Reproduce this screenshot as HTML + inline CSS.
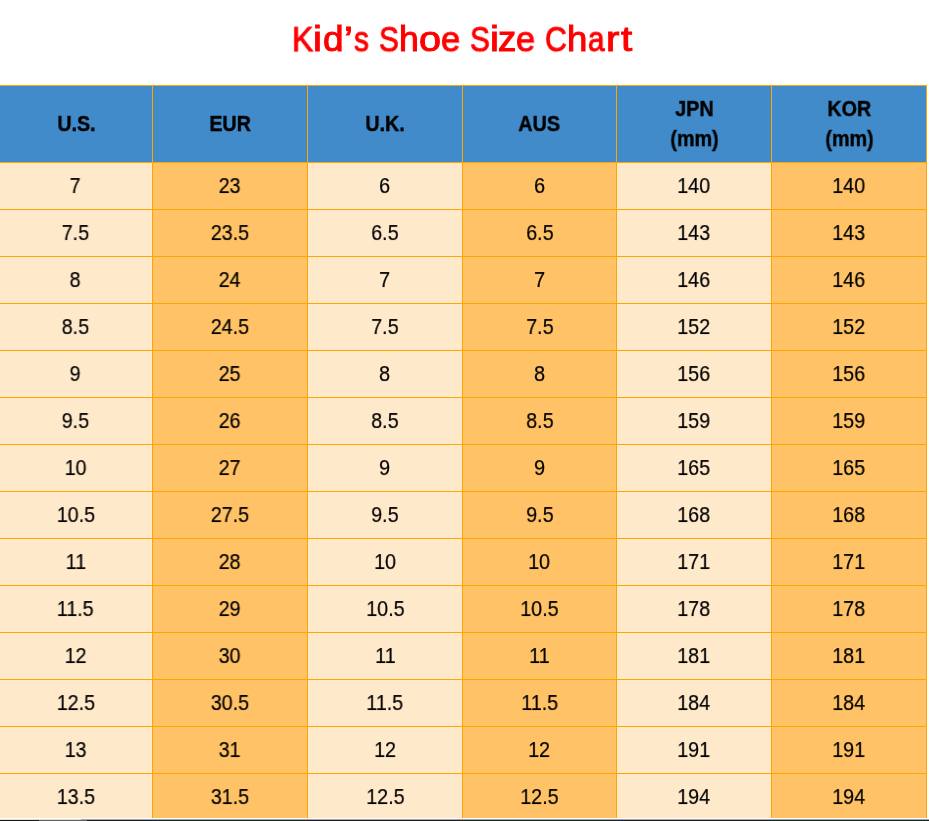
<!DOCTYPE html>
<html><head><meta charset="utf-8"><title>Kid's Shoe Size Chart</title>
<style>
html,body{margin:0;padding:0;background:#fff;}
body{width:929px;height:821px;position:relative;overflow:hidden;font-family:"Liberation Sans",sans-serif;color:#000;}
.title span{will-change:transform;position:absolute;top:16.6px;font-size:35px;line-height:44px;color:#ff0000;white-space:nowrap;-webkit-text-stroke:1px #ff0000;transform-origin:0 34.1px;}
.grid{position:absolute;left:0;top:85px;width:927px;height:736px;background:#ffa500;}
.c{position:absolute;box-sizing:border-box;text-align:center;font-size:20px;line-height:30px;padding-top:8px;height:46px;}
.c span{display:inline-block;will-change:transform;transform:scale(0.985,1.09);transform-origin:50% 21.9px;-webkit-text-stroke:0.2px #000;}
.s span{transform:translateX(-0.5px) scale(0.985,1.09);}
.h span{-webkit-text-stroke:0.4px #000;}
.h{background:#428bca;font-weight:bold;height:76px;top:1px;}
.h1{padding-top:23px;}
.a{background:#ffe9cb;}
.b{background:#ffc266;}
.bot1{position:absolute;left:0;top:818px;width:929px;height:1px;background:#fff;}
.bot2{position:absolute;left:0;top:819px;width:929px;height:1px;background:linear-gradient(90deg,#dcdcdc 0,#dcdcdc 81px,#9ea5aa 81px);}
.bot3{position:absolute;left:0;top:820px;width:929px;height:1px;background:linear-gradient(90deg,#1a1a1a 0,#1a1a1a 39px,#606060 39px,#606060 87px,#202020 87px);}
</style></head><body>
<div class="title"><span style="left:291.65px;transform:scale(0.906,1.025)">K</span><span style="left:313.34px;transform:scale(1.150,1.025)">i</span><span style="left:322.87px;transform:scale(1.057,1.025)">d</span><span style="left:344.20px;transform:scale(1.150,1.025)">’</span><span style="left:353.75px;transform:scale(0.852,1.025)">s</span><span style="left:378.74px;transform:scale(0.850,1.025)">S</span><span style="left:398.94px;transform:scale(1.015,1.025)">h</span><span style="left:419.20px;transform:scale(1.130,1.025)">o</span><span style="left:440.93px;transform:scale(0.987,1.025)">e</span><span style="left:469.81px;transform:scale(0.850,1.025)">S</span><span style="left:489.79px;transform:scale(1.150,1.025)">i</span><span style="left:498.14px;transform:scale(1.043,1.025)">z</span><span style="left:515.73px;transform:scale(0.981,1.025)">e</span><span style="left:544.70px;transform:scale(0.863,1.025)">C</span><span style="left:567.18px;transform:scale(1.047,1.025)">h</span><span style="left:587.55px;transform:scale(0.850,1.025)">a</span><span style="left:606.10px;transform:scale(1.150,1.025)">r</span><span style="left:620.55px;transform:scale(1.150,1.025)">t</span></div>
<div class="grid">
<div class="c h h1" style="left:0px;width:152px"><span>U.S.</span></div>
<div class="c h h1" style="left:153px;width:154px"><span>EUR</span></div>
<div class="c h h1" style="left:308px;width:154px"><span>U.K.</span></div>
<div class="c h h1" style="left:463px;width:153px"><span>AUS</span></div>
<div class="c h" style="left:617px;width:154px"><span>JPN</span><br><span>(mm)</span></div>
<div class="c h" style="left:772px;width:154px"><span>KOR</span><br><span>(mm)</span></div>
<div class="c a s" style="left:0px;width:152px;top:78px"><span>7</span></div>
<div class="c b s" style="left:153px;width:154px;top:78px"><span>23</span></div>
<div class="c a" style="left:308px;width:154px;top:78px"><span>6</span></div>
<div class="c b" style="left:463px;width:153px;top:78px"><span>6</span></div>
<div class="c a" style="left:617px;width:154px;top:78px"><span>140</span></div>
<div class="c b" style="left:772px;width:154px;top:78px"><span>140</span></div>
<div class="c a s" style="left:0px;width:152px;top:125px"><span>7.5</span></div>
<div class="c b s" style="left:153px;width:154px;top:125px"><span>23.5</span></div>
<div class="c a" style="left:308px;width:154px;top:125px"><span>6.5</span></div>
<div class="c b" style="left:463px;width:153px;top:125px"><span>6.5</span></div>
<div class="c a" style="left:617px;width:154px;top:125px"><span>143</span></div>
<div class="c b" style="left:772px;width:154px;top:125px"><span>143</span></div>
<div class="c a s" style="left:0px;width:152px;top:172px"><span>8</span></div>
<div class="c b s" style="left:153px;width:154px;top:172px"><span>24</span></div>
<div class="c a" style="left:308px;width:154px;top:172px"><span>7</span></div>
<div class="c b" style="left:463px;width:153px;top:172px"><span>7</span></div>
<div class="c a" style="left:617px;width:154px;top:172px"><span>146</span></div>
<div class="c b" style="left:772px;width:154px;top:172px"><span>146</span></div>
<div class="c a s" style="left:0px;width:152px;top:219px"><span>8.5</span></div>
<div class="c b s" style="left:153px;width:154px;top:219px"><span>24.5</span></div>
<div class="c a" style="left:308px;width:154px;top:219px"><span>7.5</span></div>
<div class="c b" style="left:463px;width:153px;top:219px"><span>7.5</span></div>
<div class="c a" style="left:617px;width:154px;top:219px"><span>152</span></div>
<div class="c b" style="left:772px;width:154px;top:219px"><span>152</span></div>
<div class="c a s" style="left:0px;width:152px;top:266px"><span>9</span></div>
<div class="c b s" style="left:153px;width:154px;top:266px"><span>25</span></div>
<div class="c a" style="left:308px;width:154px;top:266px"><span>8</span></div>
<div class="c b" style="left:463px;width:153px;top:266px"><span>8</span></div>
<div class="c a" style="left:617px;width:154px;top:266px"><span>156</span></div>
<div class="c b" style="left:772px;width:154px;top:266px"><span>156</span></div>
<div class="c a s" style="left:0px;width:152px;top:313px"><span>9.5</span></div>
<div class="c b s" style="left:153px;width:154px;top:313px"><span>26</span></div>
<div class="c a" style="left:308px;width:154px;top:313px"><span>8.5</span></div>
<div class="c b" style="left:463px;width:153px;top:313px"><span>8.5</span></div>
<div class="c a" style="left:617px;width:154px;top:313px"><span>159</span></div>
<div class="c b" style="left:772px;width:154px;top:313px"><span>159</span></div>
<div class="c a s" style="left:0px;width:152px;top:360px"><span>10</span></div>
<div class="c b s" style="left:153px;width:154px;top:360px"><span>27</span></div>
<div class="c a" style="left:308px;width:154px;top:360px"><span>9</span></div>
<div class="c b" style="left:463px;width:153px;top:360px"><span>9</span></div>
<div class="c a" style="left:617px;width:154px;top:360px"><span>165</span></div>
<div class="c b" style="left:772px;width:154px;top:360px"><span>165</span></div>
<div class="c a s" style="left:0px;width:152px;top:407px"><span>10.5</span></div>
<div class="c b s" style="left:153px;width:154px;top:407px"><span>27.5</span></div>
<div class="c a" style="left:308px;width:154px;top:407px"><span>9.5</span></div>
<div class="c b" style="left:463px;width:153px;top:407px"><span>9.5</span></div>
<div class="c a" style="left:617px;width:154px;top:407px"><span>168</span></div>
<div class="c b" style="left:772px;width:154px;top:407px"><span>168</span></div>
<div class="c a s" style="left:0px;width:152px;top:454px"><span>11</span></div>
<div class="c b s" style="left:153px;width:154px;top:454px"><span>28</span></div>
<div class="c a" style="left:308px;width:154px;top:454px"><span>10</span></div>
<div class="c b" style="left:463px;width:153px;top:454px"><span>10</span></div>
<div class="c a" style="left:617px;width:154px;top:454px"><span>171</span></div>
<div class="c b" style="left:772px;width:154px;top:454px"><span>171</span></div>
<div class="c a s" style="left:0px;width:152px;top:501px"><span>11.5</span></div>
<div class="c b s" style="left:153px;width:154px;top:501px"><span>29</span></div>
<div class="c a" style="left:308px;width:154px;top:501px"><span>10.5</span></div>
<div class="c b" style="left:463px;width:153px;top:501px"><span>10.5</span></div>
<div class="c a" style="left:617px;width:154px;top:501px"><span>178</span></div>
<div class="c b" style="left:772px;width:154px;top:501px"><span>178</span></div>
<div class="c a s" style="left:0px;width:152px;top:548px"><span>12</span></div>
<div class="c b s" style="left:153px;width:154px;top:548px"><span>30</span></div>
<div class="c a" style="left:308px;width:154px;top:548px"><span>11</span></div>
<div class="c b" style="left:463px;width:153px;top:548px"><span>11</span></div>
<div class="c a" style="left:617px;width:154px;top:548px"><span>181</span></div>
<div class="c b" style="left:772px;width:154px;top:548px"><span>181</span></div>
<div class="c a s" style="left:0px;width:152px;top:595px"><span>12.5</span></div>
<div class="c b s" style="left:153px;width:154px;top:595px"><span>30.5</span></div>
<div class="c a" style="left:308px;width:154px;top:595px"><span>11.5</span></div>
<div class="c b" style="left:463px;width:153px;top:595px"><span>11.5</span></div>
<div class="c a" style="left:617px;width:154px;top:595px"><span>184</span></div>
<div class="c b" style="left:772px;width:154px;top:595px"><span>184</span></div>
<div class="c a s" style="left:0px;width:152px;top:642px"><span>13</span></div>
<div class="c b s" style="left:153px;width:154px;top:642px"><span>31</span></div>
<div class="c a" style="left:308px;width:154px;top:642px"><span>12</span></div>
<div class="c b" style="left:463px;width:153px;top:642px"><span>12</span></div>
<div class="c a" style="left:617px;width:154px;top:642px"><span>191</span></div>
<div class="c b" style="left:772px;width:154px;top:642px"><span>191</span></div>
<div class="c a s" style="left:0px;width:152px;top:689px"><span>13.5</span></div>
<div class="c b s" style="left:153px;width:154px;top:689px"><span>31.5</span></div>
<div class="c a" style="left:308px;width:154px;top:689px"><span>12.5</span></div>
<div class="c b" style="left:463px;width:153px;top:689px"><span>12.5</span></div>
<div class="c a" style="left:617px;width:154px;top:689px"><span>194</span></div>
<div class="c b" style="left:772px;width:154px;top:689px"><span>194</span></div>
</div>
<div class="bot1"></div><div class="bot2"></div><div class="bot3"></div>
</body></html>
